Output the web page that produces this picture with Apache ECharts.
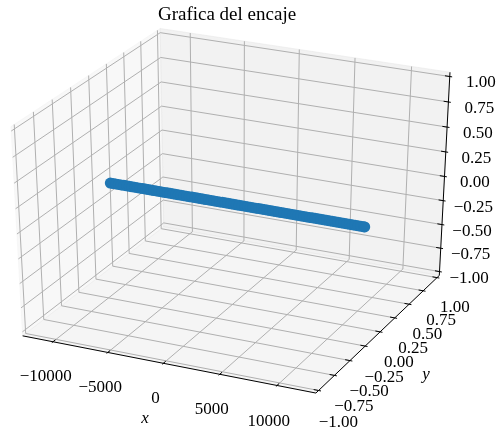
<!DOCTYPE html>
<html><head><meta charset="utf-8">
<script src="https://cdn.jsdelivr.net/npm/echarts@6/dist/echarts.min.js"></script>
<style>html,body{margin:0;padding:0;background:#fff}#c{width:496px;height:429px}</style>
</head><body><div id="c"></div>
<script>
const chartTitle = 'Grafica del encaje';
const xData = [-11140,-10890,-10640,-10390,-10140,-9890,-9640,-9390,-9140,-8890,-8640,-8390,-8140,-7890,-7640,-7390,-7140,-6890,-6640,-6390,-6140,-5890,-5640,-5390,-5140,-4890,-4640,-4390,-4140,-3890,-3640,-3390,-3140,-2890,-2640,-2390,-2140,-1890,-1640,-1390,-1140,-890,-640,-390,-140,110,360,610,860,1110,1360,1610,1860,2110,2360,2610,2860,3110,3360,3610,3860,4110,4360,4610,4860,5110,5360,5610,5860,6110,6360,6610,6860,7110,7360,7610,7860,8110,8360,8610,8860,9110,9360,9610,9860,10110,10360,10610,10860,11110,11360,11610,11690];
const yData = [0,0,0,0,0,0,0,0,0,0, 0,0,0,0,0,0,0,0,0,0, 0,0,0,0,0,0,0,0,0,0, 0,0,0,0,0,0,0,0,0,0, 0,0,0,0,0,0,0,0,0,0, 0,0,0,0,0,0,0,0,0,0, 0,0,0,0,0,0,0,0,0,0, 0,0,0,0,0,0,0,0,0,0, 0,0,0,0,0,0,0,0,0,0, 0,0,0];
const zData = [0,0,0,0,0,0,0,0,0,0, 0,0,0,0,0,0,0,0,0,0, 0,0,0,0,0,0,0,0,0,0, 0,0,0,0,0,0,0,0,0,0, 0,0,0,0,0,0,0,0,0,0, 0,0,0,0,0,0,0,0,0,0, 0,0,0,0,0,0,0,0,0,0, 0,0,0,0,0,0,0,0,0,0, 0,0,0,0,0,0,0,0,0,0, 0,0,0];
const xTicks = [-10000,-5000,0,5000,10000];
const xTickLabels = ['\u221210000','\u22125000','0','5000','10000'];
const yTicks = [-1,-0.75,-0.5,-0.25,0,0.25,0.5,0.75,1];
const yTickLabels = ['\u22121.00','\u22120.75','\u22120.50','\u22120.25','0.00','0.25','0.50','0.75','1.00'];
const zTicks = [-1,-0.75,-0.5,-0.25,0,0.25,0.5,0.75,1];
const zTickLabels = ['\u22121.00','\u22120.75','\u22120.50','\u22120.25','0.00','0.25','0.50','0.75','1.00'];
const yLim = [-1, 1];
const zLim = [-1, 1];
const xLabel = 'x', yLabel = 'y';

// camera (matplotlib-like perspective)
const ELEV = 30, AZIM = -65, DIST = 10;
const SX = 3087, SY = 2284, OX = 235.4, OY = 204.6;
const PAD = 1/48, LO = -PAD, HI = 1 + PAD, TD = 1/12;
const W_ = 496, H_ = 429;

const n0 = Math.min(xData.length, yData.length, zData.length);
const dxMin = Math.min(...xData), dxMax = Math.max(...xData);
const xm = 0.05 * (dxMax - dxMin);
const xLim = [dxMin - xm, dxMax + xm];

const er = ELEV*Math.PI/180, ar = AZIM*Math.PI/180;
const U = [-Math.sin(ar), Math.cos(ar), 0];
const V = [-Math.cos(ar)*Math.sin(er), -Math.sin(ar)*Math.sin(er), Math.cos(er)];
const Wv = [Math.cos(ar)*Math.cos(er), Math.sin(ar)*Math.cos(er), Math.sin(er)];
function nrm(v, lim){ return (v - lim[0])/(lim[1]-lim[0]); }
function projN(nx, ny, nz){
  const q = [nx-0.5, ny-0.5, nz-0.5];
  const d = A => A[0]*q[0]+A[1]*q[1]+A[2]*q[2];
  const den = DIST - d(Wv);
  return [OX + SX*d(U)/den, OY - SY*d(V)/den];
}
function proj(x,y,z){ return projN(nrm(x,xLim), nrm(y,yLim), nrm(z,zLim)); }

// panes
const panes = [
  {c:[[LO,LO,LO],[LO,HI,LO],[LO,HI,HI],[LO,LO,HI]], fill:'rgba(242,242,242,0.5)'},
  {c:[[LO,HI,LO],[HI,HI,LO],[HI,HI,HI],[LO,HI,HI]], fill:'rgba(230,230,230,0.5)'},
  {c:[[LO,LO,LO],[HI,LO,LO],[HI,HI,LO],[LO,HI,LO]], fill:'rgba(236,236,236,0.5)'}
].map(p => ({pts: p.c.map(c => projN(...c)), fill: p.fill}));

// grid lines
const gridLines = [];
xTicks.forEach(t => { const n = nrm(t,xLim); gridLines.push([[n,LO,LO],[n,HI,LO],[n,HI,HI]].map(c=>projN(...c))); });
yTicks.forEach(t => { const n = nrm(t,yLim); gridLines.push([[HI,n,LO],[LO,n,LO],[LO,n,HI]].map(c=>projN(...c))); });
zTicks.forEach(t => { const n = nrm(t,zLim); gridLines.push([[LO,LO,n],[LO,HI,n],[HI,HI,n]].map(c=>projN(...c))); });

// axis lines and ticks
const axLines = [
  [[LO,LO,LO],[HI,LO,LO]], [[HI,LO,LO],[HI,HI,LO]], [[HI,HI,LO],[HI,HI,HI]]
].map(l => l.map(c => projN(...c)));
xTicks.forEach(t => { const n = nrm(t,xLim); axLines.push([[n,LO-0.1*TD,LO],[n,LO+0.2*TD,LO]].map(c=>projN(...c))); });
yTicks.forEach(t => { const n = nrm(t,yLim); axLines.push([[HI+0.1*TD,n,LO],[HI-0.2*TD,n,LO]].map(c=>projN(...c))); });
zTicks.forEach(t => { const n = nrm(t,zLim); axLines.push([[HI+0.1*TD,HI,n],[HI-0.2*TD,HI,n]].map(c=>projN(...c))); });

// texts
const texts = [];
xTicks.forEach((t,i) => { const p = projN(nrm(t,xLim), LO-0.06, LO-0.148); texts.push({p, s:xTickLabels[i], it:false}); });
yTicks.forEach((t,i) => { const p = projN(HI+0.070, nrm(t,yLim), LO-0.143); texts.push({p, s:yTickLabels[i], it:false}); });
zTicks.forEach((t,i) => { const p = projN(HI+0.108, HI, nrm(t,zLim)-0.008); texts.push({p, s:zTickLabels[i], it:false}); });
texts.push({p: projN(0.5, LO-0.16, LO-0.185), s:xLabel, it:true});
texts.push({p: projN(HI+0.167, 0.5, LO-0.18), s:yLabel, it:true});

const FONT = '"Liberation Serif", "DejaVu Serif", serif';
const scatterData = [];
for (let i = 0; i < n0; i++) scatterData.push(proj(xData[i], yData[i], zData[i]));

function idx(arr){ return arr.map((_, i) => [i, i]); }

const chart = echarts.init(document.getElementById('c'), null, {renderer:'canvas'});
chart.setOption({
  animation: false,
  backgroundColor: '#ffffff',
  graphic: [{type:'text', x: 227, y: 15, style:{text: chartTitle, font: '19px ' + FONT, fill:'#000', textAlign:'center', textVerticalAlign:'middle'}}],
  grid: {left:0, right:0, top:0, bottom:0},
  xAxis: {type:'value', min:0, max:W_, show:false},
  yAxis: {type:'value', min:0, max:H_, inverse:true, show:false},
  series: [
    {type:'custom', silent:true, clip:false, data: idx(panes), encode:{x:0,y:1},
     renderItem:(params, api) => { const p = panes[params.dataIndex];
       return {type:'polygon', shape:{points: p.pts.map(q => api.coord(q))}, style:{fill:p.fill, stroke:p.fill, lineWidth:1}}; }},
    {type:'custom', silent:true, clip:false, data: idx(gridLines), encode:{x:0,y:1},
     renderItem:(params, api) => ({type:'polyline', shape:{points: gridLines[params.dataIndex].map(q => api.coord(q))}, style:{fill:null, stroke:'#b0b0b0', lineWidth:1}})},
    {type:'custom', silent:true, clip:false, data: idx(axLines), encode:{x:0,y:1},
     renderItem:(params, api) => ({type:'polyline', shape:{points: axLines[params.dataIndex].map(q => api.coord(q))}, style:{fill:null, stroke:'#000', lineWidth:1}})},
    {type:'custom', silent:true, clip:false, data: idx(texts), encode:{x:0,y:1},
     renderItem:(params, api) => { const t = texts[params.dataIndex]; const c = api.coord(t.p);
       return {type:'text', x:c[0], y:c[1], style:{text:t.s, font:(t.it?'italic ':'') + '17px ' + FONT, fill:'#000', textAlign:'center', textVerticalAlign:'middle'}}; }},
    {type:'scatter', data: scatterData, symbolSize: 11, itemStyle:{color:'#1f77b4', opacity:1}, silent:true, clip:false}
  ]
});
</script></body></html>
